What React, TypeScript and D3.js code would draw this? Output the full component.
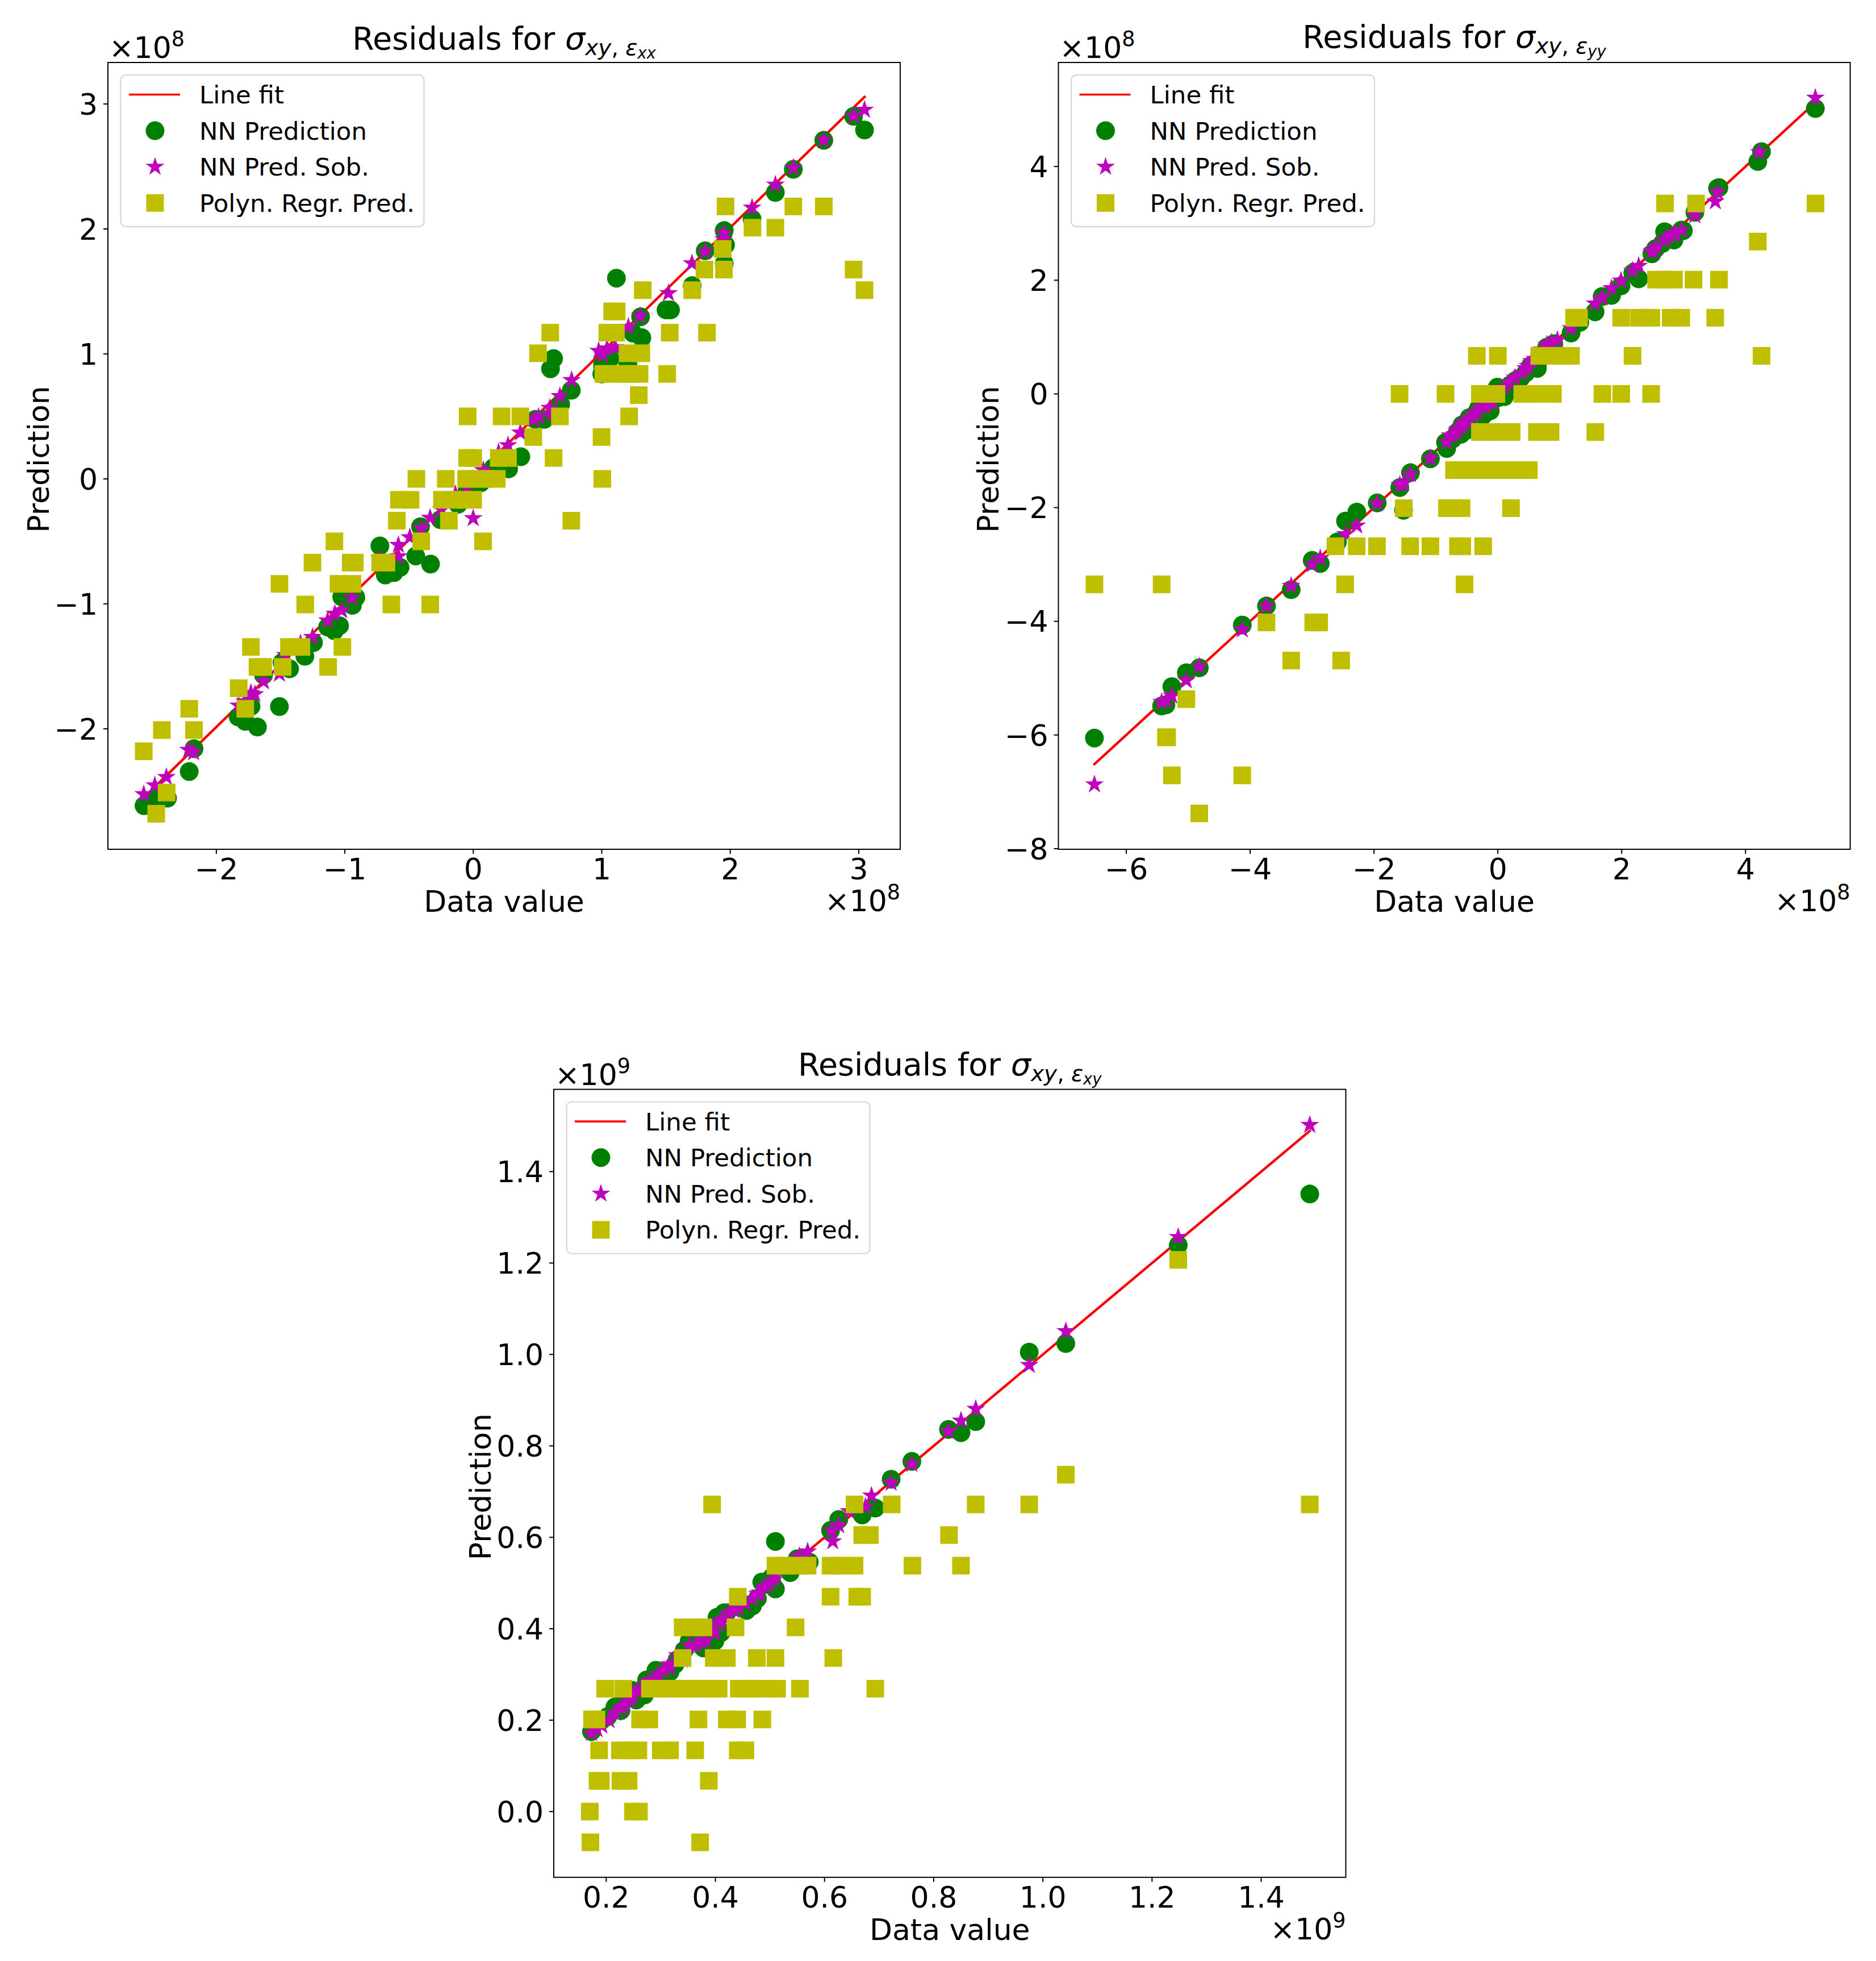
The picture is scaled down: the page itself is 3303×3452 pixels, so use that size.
import { useRef, useEffect } from "react";
import * as d3 from "d3";

type Pair = [number, number];

// Values are in axis units, i.e. before the x10^8 / x10^9 offset

// sigma_xy, eps_xx
const xxFit: Pair[] = [[-2.565, -2.55], [3.045, 3.056]];
const xxCircles: Pair[] = [
  [-2.563, -2.615], [-2.47, -2.56], [-2.428, -2.525], [-2.38, -2.555], [-2.174, -2.159], [-2.211, -2.342],
  [-1.83, -1.905], [-1.775, -1.94], [-1.68, -1.986], [-1.73, -1.82], [-1.509, -1.822], [-1.633, -1.57],
  [-1.489, -1.47], [-1.43, -1.52], [-1.311, -1.42], [-1.244, -1.31], [-1.134, -1.185], [-1.081, -1.215],
  [-1.041, -1.175], [-1.024, -0.945], [-0.941, -1.012], [-0.914, -0.948], [-0.685, -0.769], [-0.618, -0.75],
  [-0.57, -0.708], [-0.727, -0.536], [-0.448, -0.617], [-0.333, -0.682], [-0.411, -0.383], [-0.257, -0.326],
  [-0.119, -0.204], [-0.1, -0.17], [-0.05, -0.1], [0.02, -0.03], [0.058, -0.032], [0.1, 0.03], [0.157, 0.09],
  [0.275, 0.08], [0.37, 0.177], [0.483, 0.476], [0.552, 0.476], [0.68, 0.597], [0.763, 0.709], [0.601, 0.881],
  [0.625, 0.963], [1.114, 1.606], [1.006, 0.912], [1.0, 0.84], [1.065, 0.963], [1.203, 0.922], [1.312, 1.129],
  [1.243, 1.166], [1.302, 1.297], [1.5, 1.352], [1.535, 1.352], [1.704, 1.547], [1.805, 1.825], [1.953, 1.724],
  [1.963, 1.872], [1.953, 1.987], [2.17, 2.079], [2.351, 2.292], [2.491, 2.477], [2.728, 2.709], [2.96, 2.901],
  [3.045, 2.792],
];
const xxStars: Pair[] = [
  [-2.565, -2.524], [-2.479, -2.453], [-2.389, -2.386], [-2.216, -2.169], [-2.177, -2.189], [-1.827, -1.814],
  [-1.78, -1.78], [-1.731, -1.713], [-1.7, -1.723], [-1.633, -1.621], [-1.509, -1.56], [-1.463, -1.41],
  [-1.345, -1.317], [-1.252, -1.266], [-1.134, -1.134], [-1.078, -1.079], [-1.024, -1.053], [-0.944, -0.951],
  [-0.728, -0.64], [-0.583, -0.529], [-0.583, -0.62], [-0.494, -0.468], [-0.405, -0.397], [-0.336, -0.312],
  [-0.001, -0.316], [-0.248, -0.245], [-0.139, -0.123], [-0.05, -0.062], [0.078, 0.07], [0.197, 0.212],
  [0.27, 0.269], [0.366, 0.37], [0.473, 0.476], [0.508, 0.496], [0.595, 0.567], [0.607, 0.516], [0.674, 0.662],
  [0.765, 0.79], [1.006, 0.993], [0.976, 1.023], [1.041, 1.044], [1.104, 1.054], [1.207, 1.216], [1.298, 1.304],
  [1.519, 1.486], [1.702, 1.724], [1.805, 1.819], [1.949, 1.967], [1.949, 1.916], [2.17, 2.17], [2.351, 2.354],
  [2.491, 2.489], [2.728, 2.711], [2.96, 2.906], [3.045, 2.953],
];
const xxSquares: Pair[] = [
  [-2.468, -2.68], [-2.387, -2.51], [-2.565, -2.18], [-2.424, -2.01], [-2.174, -2.01], [-2.211, -1.84],
  [-1.775, -1.84], [-1.826, -1.675], [-1.68, -1.505], [-1.636, -1.505], [-1.484, -1.505], [-1.13, -1.505],
  [-1.731, -1.345], [-1.435, -1.345], [-1.338, -1.345], [-1.019, -1.345], [-1.308, -1.005], [-0.638, -1.005],
  [-0.335, -1.005], [-1.509, -0.84], [-1.049, -0.84], [-0.941, -0.84], [-1.252, -0.67], [-0.954, -0.67],
  [-0.922, -0.67], [-0.725, -0.67], [-0.676, -0.67], [-1.081, -0.5], [-0.405, -0.5], [0.076, -0.5], [-0.595, -0.335],
  [-0.19, -0.335], [0.763, -0.335], [-0.579, -0.1675], [-0.488, -0.1675], [-0.244, -0.1675], [-0.159, -0.1675],
  [-0.08, -0.1675], [-0.001, -0.1675], [-0.443, 0], [-0.214, 0], [-0.056, 0], [0.019, 0], [0.098, 0], [0.183, 0],
  [1.004, 0], [-0.048, 0.1675], [-0.001, 0.1675], [0.198, 0.1675], [0.27, 0.1675], [0.625, 0.1675], [0.467, 0.335],
  [0.998, 0.335], [-0.044, 0.5], [0.22, 0.5], [0.366, 0.5], [0.674, 0.5], [1.213, 0.5], [1.288, 0.67], [1.012, 0.84],
  [1.085, 0.84], [1.164, 0.84], [1.233, 0.84], [1.294, 0.84], [1.509, 0.84], [0.504, 1.005], [1.201, 1.005],
  [1.308, 1.005], [0.599, 1.17], [1.043, 1.17], [1.11, 1.17], [1.529, 1.17], [1.819, 1.17], [1.081, 1.34],
  [1.116, 1.34], [1.319, 1.51], [1.704, 1.51], [3.045, 1.51], [1.799, 1.675], [1.951, 1.675], [2.96, 1.675],
  [1.941, 1.84], [2.173, 2.01], [2.351, 2.01], [1.963, 2.18], [2.491, 2.18], [2.728, 2.18],
];

// sigma_xy, eps_yy
const yyFit: Pair[] = [[-6.514, -6.513], [5.127, 5.127]];
const yyCircles: Pair[] = [
  [-6.514, -6.053], [-5.429, -5.49], [-5.36, -5.47], [-5.264, -5.149], [-5.03, -4.905], [-4.821, -4.818],
  [-4.127, -4.066], [-3.736, -3.73], [-3.337, -3.443], [-2.998, -2.929], [-2.868, -2.983], [-2.59, -2.604],
  [-2.46, -2.236], [-2.278, -2.079], [-1.948, -1.917], [-1.583, -1.646], [-1.41, -1.386], [-1.523, -2.046],
  [-1.089, -1.142], [-0.826, -0.959], [-0.845, -0.855], [-0.598, -0.71], [-0.579, -0.545], [-0.465, -0.42],
  [-0.313, -0.255], [-0.161, -0.255], [0, -0.068], [-0.009, 0.118], [0.201, 0.16], [0.372, 0.284], [0.524, 0.491],
  [0.638, 0.532], [0.904, 0.884], [1.182, 1.071], [1.323, 1.257], [1.57, 1.444], [1.684, 1.713], [1.836, 1.734],
  [1.989, 1.9], [2.274, 2.024], [2.179, 2.127], [2.487, 2.464], [2.548, 2.556], [2.705, 2.843], [2.835, 2.762],
  [2.965, 2.881], [3.182, 3.195], [3.547, 3.617], [3.57, 3.63], [4.198, 4.088], [4.258, 4.262], [5.127, 5.02],
  [-0.731, -0.793], [-0.655, -0.669], [-0.522, -0.648], [-0.351, -0.338], [-0.237, -0.379], [-0.122, -0.296],
  [0.105, -0.048], [0.296, 0.242], [0.448, 0.367], [0.638, 0.45], [0.79, 0.822], [2.654, 2.645], [2.844, 2.707],
  [2.692, 2.852], [2.996, 2.873],
];
const yyStars: Pair[] = [
  [-6.514, -6.87], [-5.429, -5.42], [-5.351, -5.392], [-5.264, -5.311], [-5.03, -5.04], [-4.821, -4.797],
  [-4.127, -4.147], [-3.736, -3.73], [-3.337, -3.378], [-2.998, -3.0], [-2.868, -2.891], [-2.46, -2.469],
  [-2.278, -2.317], [-1.948, -1.927], [-1.583, -1.602], [-1.523, -1.575], [-1.41, -1.413], [-1.089, -1.131],
  [-0.826, -0.843], [-0.693, -0.71], [-0.598, -0.586], [-0.522, -0.483], [-0.389, -0.358], [-0.256, -0.234],
  [-0.161, -0.151], [0.182, 0.201], [0.391, 0.367], [0.486, 0.491], [0.6, 0.615], [0.866, 0.905], [1.182, 1.154],
  [1.57, 1.589], [1.684, 1.692], [1.836, 1.858], [1.989, 1.991], [2.179, 2.169], [2.274, 2.252], [2.483, 2.5],
  [2.559, 2.583], [2.768, 2.769], [2.844, 2.811], [2.965, 2.881], [3.182, 3.141], [3.512, 3.385], [3.547, 3.547],
  [4.224, 4.251], [5.127, 5.209], [-0.769, -0.731], [-0.655, -0.628], [-0.56, -0.524], [-0.446, -0.441],
  [-0.332, -0.317], [-0.199, -0.213], [-0.085, -0.151], [0.105, 0.118], [0.277, 0.284], [0.448, 0.45], [0.543, 0.574],
  [0.714, 0.781], [0.79, 0.864], [0.961, 0.947], [2.502, 2.521], [2.692, 2.707], [2.863, 2.831],
];
const yySquares: Pair[] = [
  [2.7, 3.35], [3.2, 3.35], [5.13, 3.35], [4.198, 2.68], [2.555, 2.01], [2.7, 2.01], [2.844, 2.01], [3.16, 2.01],
  [3.57, 2.01], [1.231, 1.34], [1.311, 1.34], [1.992, 1.34], [2.281, 1.34], [2.479, 1.34], [2.791, 1.34], [2.962, 1.34],
  [3.51, 1.34], [-0.339, 0.67], [0, 0.67], [0.669, 0.67], [0.829, 0.67], [1.019, 0.67], [1.182, 0.67], [2.175, 0.67],
  [4.258, 0.67], [-1.587, 0], [-0.845, 0], [-0.29, 0], [-0.161, 0], [-0.024, 0], [0.395, 0], [0.608, 0], [0.889, 0],
  [1.688, 0], [1.992, 0], [2.475, 0], [-0.29, -0.67], [-0.142, -0.67], [0.03, -0.67], [0.224, -0.67], [0.631, -0.67],
  [0.851, -0.67], [1.574, -0.67], [-0.708, -1.34], [-0.541, -1.34], [-0.37, -1.34], [-0.199, -1.34], [-0.047, -1.34],
  [0.144, -1.34], [0.334, -1.34], [0.501, -1.34], [-1.519, -2.01], [-0.822, -2.01], [-0.587, -2.01], [0.212, -2.01],
  [-2.622, -2.68], [-2.279, -2.68], [-1.952, -2.68], [-1.416, -2.68], [-1.089, -2.68], [-0.644, -2.68], [-0.575, -2.68],
  [-0.237, -2.68], [-2.466, -3.35], [-0.537, -3.35], [-6.514, -3.35], [-5.429, -3.35], [-3.736, -4.02], [-2.981, -4.02],
  [-2.886, -4.02], [-3.337, -4.69], [-2.53, -4.69], [-5.03, -5.37], [-5.36, -6.04], [-5.34, -6.04], [-5.264, -6.71],
  [-4.127, -6.71], [-4.821, -7.38],
];

// sigma_xy, eps_xy
const xyFit: Pair[] = [[0.173, 0.173], [1.489, 1.489]];
const xyCircles: Pair[] = [
  [0.173, 0.175], [0.203, 0.208], [0.227, 0.221], [0.233, 0.244], [0.248, 0.265], [0.274, 0.288], [0.306, 0.306],
  [0.317, 0.306], [0.33, 0.332], [0.343, 0.353], [0.378, 0.358], [0.365, 0.378], [0.403, 0.414], [0.421, 0.435],
  [0.457, 0.44], [0.477, 0.466], [0.494, 0.497], [0.51, 0.487], [0.51, 0.591], [0.55, 0.553], [0.572, 0.546],
  [0.611, 0.615], [0.626, 0.639], [0.669, 0.649], [0.693, 0.664], [0.722, 0.727], [0.76, 0.766], [0.827, 0.836],
  [0.85, 0.829], [0.877, 0.853], [0.975, 1.005], [1.042, 1.024], [1.248, 1.239], [1.489, 1.351], [0.192, 0.2],
  [0.216, 0.229], [0.255, 0.244], [0.27, 0.255], [0.291, 0.309], [0.326, 0.322], [0.352, 0.373], [0.399, 0.373],
  [0.41, 0.391], [0.403, 0.425], [0.416, 0.435], [0.468, 0.45], [0.485, 0.502], [0.503, 0.512], [0.537, 0.523],
];
const xyStars: Pair[] = [
  [0.173, 0.172], [0.183, 0.18], [0.205, 0.2], [0.227, 0.226], [0.242, 0.242], [0.257, 0.265], [0.287, 0.286],
  [0.306, 0.309], [0.317, 0.315], [0.339, 0.332], [0.365, 0.363], [0.382, 0.373], [0.399, 0.391], [0.408, 0.414],
  [0.425, 0.435], [0.442, 0.445], [0.468, 0.466], [0.481, 0.479], [0.498, 0.497], [0.511, 0.517], [0.541, 0.543],
  [0.554, 0.559], [0.569, 0.569], [0.613, 0.615], [0.615, 0.591], [0.626, 0.626], [0.645, 0.657], [0.675, 0.667],
  [0.686, 0.691], [0.722, 0.719], [0.76, 0.76], [0.827, 0.832], [0.85, 0.855], [0.877, 0.881], [0.975, 0.977],
  [1.042, 1.051], [1.248, 1.257], [1.489, 1.502], [0.192, 0.188], [0.216, 0.216], [0.233, 0.232], [0.248, 0.25],
  [0.265, 0.27], [0.278, 0.286], [0.296, 0.301], [0.315, 0.322], [0.33, 0.342], [0.352, 0.363], [0.373, 0.373],
  [0.395, 0.402], [0.412, 0.42], [0.434, 0.44], [0.455, 0.455], [0.477, 0.476], [0.49, 0.492], [0.507, 0.507],
  [0.529, 0.533],
];
const xySquares: Pair[] = [
  [0.171, -0.0672], [0.372, -0.0672], [0.17, 0], [0.249, 0], [0.26, 0], [0.184, 0.0672], [0.19, 0.0672], [0.226, 0.0672],
  [0.241, 0.0672], [0.388, 0.0672], [0.187, 0.134], [0.225, 0.134], [0.242, 0.134], [0.259, 0.134], [0.3, 0.134],
  [0.317, 0.134], [0.363, 0.134], [0.441, 0.134], [0.455, 0.134], [0.174, 0.2016], [0.182, 0.2016], [0.262, 0.2016],
  [0.279, 0.2016], [0.369, 0.2016], [0.421, 0.2016], [0.44, 0.2016], [0.486, 0.2016], [0.198, 0.2688], [0.231, 0.2688],
  [0.28, 0.2688], [0.3, 0.2688], [0.322, 0.2688], [0.343, 0.2688], [0.365, 0.2688], [0.386, 0.2688], [0.406, 0.2688],
  [0.443, 0.2688], [0.464, 0.2688], [0.485, 0.2688], [0.513, 0.2688], [0.555, 0.2688], [0.693, 0.2688], [0.34, 0.336],
  [0.397, 0.336], [0.421, 0.336], [0.476, 0.336], [0.51, 0.336], [0.616, 0.336], [0.34, 0.403], [0.36, 0.403],
  [0.378, 0.403], [0.437, 0.403], [0.547, 0.403], [0.441, 0.47], [0.611, 0.47], [0.66, 0.47], [0.669, 0.47], [0.51, 0.538],
  [0.529, 0.538], [0.55, 0.538], [0.569, 0.538], [0.611, 0.538], [0.632, 0.538], [0.655, 0.538], [0.761, 0.538],
  [0.85, 0.538], [0.669, 0.605], [0.683, 0.605], [0.828, 0.605], [0.394, 0.672], [0.655, 0.672], [0.723, 0.672],
  [0.877, 0.672], [0.975, 0.672], [1.489, 0.672], [1.042, 0.737], [1.248, 1.207],
];

const xxXTicks = [-2, -1, 0, 1, 2, 3];
const xxYTicks = [-2, -1, 0, 1, 2, 3];
const yyXTicks = [-6, -4, -2, 0, 2, 4];
const yyYTicks = [-8, -6, -4, -2, 0, 2, 4];
const xyXTicks = [0.2, 0.4, 0.6, 0.8, 1.0, 1.2, 1.4];
const xyYTicks = [0.0, 0.2, 0.4, 0.6, 0.8, 1.0, 1.2, 1.4];

const legendLabels = ["Line fit", "NN Prediction", "NN Pred. Sob.", "Polyn. Regr. Pred."];

const FONT = "'DejaVu Sans', sans-serif";
const RED = "#ff0000";
const GREEN = "#008000";
const MAGENTA = "#bf00bf";
const OLIVE = "#bfbf00";

const circleSym = d3.symbol(d3.symbolCircle, Math.PI * 16.5 * 16.5)();
const starSym = d3.symbol(d3.symbolStar, 205)();
const squareSym = d3.symbol(d3.symbolSquare, 31 * 31)();

interface PanelProps {
  left: number;
  right: number;
  top: number;
  bottom: number;
  xDomain: [number, number];
  yDomain: [number, number];
  xTicks: number[];
  yTicks: number[];
  digits: number;
  exponent: string;
  sub: string;
  titleY: number;
  yLabelX: number;
  fit: Pair[];
  circles: Pair[];
  stars: Pair[];
  squares: Pair[];
}

const Panel: React.FC<PanelProps> = (p) => {
  const ref = useRef<SVGGElement | null>(null);

  useEffect(() => {
    if (!ref.current) return;
    const g = d3.select(ref.current);
    g.selectAll("*").remove();

    const x = d3.scaleLinear().domain(p.xDomain).range([p.left, p.right]);
    const y = d3.scaleLinear().domain(p.yDomain).range([p.bottom, p.top]);
    const fmt = (d: d3.NumberValue) => d3.format(`.${p.digits}f`)(+d).replace("-", "\u2212");

    // fit line
    const line = d3
      .line<Pair>()
      .x((d) => x(d[0]))
      .y((d) => y(d[1]));
    g.append("path")
      .attr("d", line(p.fit))
      .attr("fill", "none")
      .attr("stroke", RED)
      .attr("stroke-width", 4.4)
      .attr("stroke-linecap", "square");

    const marks = (data: Pair[], sym: string | null, color: string) =>
      g
        .append("g")
        .selectAll("path")
        .data(data)
        .join("path")
        .attr("d", sym)
        .attr("fill", color)
        .attr("transform", (d) => `translate(${x(d[0])},${y(d[1])})`);

    marks(p.circles, circleSym, GREEN);
    // the star carries an edge of its own colour, that is what makes it look fat
    marks(p.stars, starSym, MAGENTA).attr("stroke", MAGENTA).attr("stroke-width", 2.4);
    marks(p.squares, squareSym, OLIVE);

    // frame
    g.append("rect")
      .attr("x", p.left)
      .attr("y", p.top)
      .attr("width", p.right - p.left)
      .attr("height", p.bottom - p.top)
      .attr("fill", "none")
      .attr("stroke", "#000")
      .attr("stroke-width", 2);

    // axes
    const xAxis = g
      .append("g")
      .attr("transform", `translate(0,${p.bottom})`)
      .call(
        d3.axisBottom(x).tickValues(p.xTicks).tickFormat(fmt).tickSize(8).tickPadding(8).offset(0)
      );
    const yAxis = g
      .append("g")
      .attr("transform", `translate(${p.left},0)`)
      .call(
        d3.axisLeft(y).tickValues(p.yTicks).tickFormat(fmt).tickSize(8).tickPadding(10).offset(0)
      );
    yAxis.selectAll("text").attr("dy", "0.36em");
    [xAxis, yAxis].forEach((a) => {
      a.select(".domain").remove();
      a.attr("font-family", FONT).attr("font-size", 52);
      a.selectAll("line").attr("stroke-width", 2);
    });

    const label = (tx: number, ty: number, txt: string) =>
      g
        .append("text")
        .attr("x", tx)
        .attr("y", ty)
        .attr("font-family", FONT)
        .attr("font-size", 52)
        .attr("text-anchor", "middle")
        .text(txt);

    label((p.left + p.right) / 2, p.bottom + 110, "Data value");
    label(0, 0, "Prediction").attr(
      "transform",
      `translate(${p.yLabelX},${(p.top + p.bottom) / 2 + 6}) rotate(-90)`
    );

    // offset text, top left and bottom right
    const offset = (tx: number, ty: number, anchor: string) => {
      const t = g
        .append("text")
        .attr("x", tx)
        .attr("y", ty)
        .attr("font-family", FONT)
        .attr("font-size", 52)
        .attr("text-anchor", anchor);
      t.append("tspan").text("\u00d710");
      t.append("tspan").attr("font-size", 36.5).attr("dy", -21).text(p.exponent);
    };
    offset(p.left + 2, p.top - 8, "start");
    offset(p.right, p.bottom + 109, "end");

    // title
    const title = g
      .append("text")
      .attr("x", (p.left + p.right) / 2)
      .attr("y", p.titleY)
      .attr("font-family", FONT)
      .attr("font-size", 55.5)
      .attr("text-anchor", "middle");
    title.append("tspan").text("Residuals for ");
    title.append("tspan").attr("font-style", "italic").text("\u03c3");
    title.append("tspan").attr("font-style", "italic").attr("font-size", 39).attr("dy", 10).text("xy");
    title.append("tspan").attr("font-size", 39).text(", ");
    title.append("tspan").attr("font-style", "italic").attr("font-size", 39).text("\u03b5");
    title.append("tspan").attr("font-style", "italic").attr("font-size", 27.5).attr("dy", 6).text(p.sub);

    // legend
    const legX = p.left + 22.5;
    const legY = p.top + 22;
    g.append("rect")
      .attr("x", legX)
      .attr("y", legY)
      .attr("width", 534)
      .attr("height", 267)
      .attr("rx", 9)
      .attr("fill", "#fff")
      .attr("fill-opacity", 0.8)
      .attr("stroke", "#d9d9d9")
      .attr("stroke-width", 2.4);

    const rowY = legendLabels.map((_, i) => legY + 34.5 + i * 63.6);
    g.append("line")
      .attr("x1", p.left + 37)
      .attr("x2", p.left + 127)
      .attr("y1", rowY[0])
      .attr("y2", rowY[0])
      .attr("stroke", RED)
      .attr("stroke-width", 3.6);
    [
      [circleSym, GREEN, 0],
      [starSym, MAGENTA, 2.4],
      [squareSym, OLIVE, 0],
    ].forEach(([sym, color, edge], i) => {
      g.append("path")
        .attr("d", sym as string)
        .attr("fill", color as string)
        .attr("stroke", edge ? (color as string) : "none")
        .attr("stroke-width", edge as number)
        .attr("transform", `translate(${p.left + 83},${rowY[i + 1]})`);
    });
    legendLabels.forEach((txt, i) => {
      g.append("text")
        .attr("x", p.left + 161)
        .attr("y", rowY[i] + 15.5)
        .attr("font-family", FONT)
        .attr("font-size", 43.5)
        .text(txt);
    });
  }, [p]);

  return <g ref={ref}></g>;
};

const App: React.FC = () => {
  return (
    <svg
      width={3303}
      height={3452}
      style={{ position: "absolute", left: 0, top: 0, background: "#fff" }}
    >
      <Panel
        left={190}
        right={1585}
        top={110}
        bottom={1495}
        xDomain={[-2.844, 3.323]}
        yDomain={[-2.964, 3.332]}
        xTicks={xxXTicks}
        yTicks={xxYTicks}
        digits={0}
        exponent="8"
        sub="xx"
        titleY={87}
        yLabelX={86}
        fit={xxFit}
        circles={xxCircles}
        stars={xxStars}
        squares={xxSquares}
      />
      <Panel
        left={1863.5}
        right={3257.6}
        top={110}
        bottom={1495}
        xDomain={[-7.096, 5.69]}
        yDomain={[-8.01, 5.83]}
        xTicks={yyXTicks}
        yTicks={yyYTicks}
        digits={0}
        exponent="8"
        sub="yy"
        titleY={84}
        yLabelX={1758}
        fit={yyFit}
        circles={yyCircles}
        stars={yyStars}
        squares={yySquares}
      />
      <Panel
        left={975}
        right={2369.5}
        top={1917.6}
        bottom={3304.7}
        xDomain={[0.1039, 1.555]}
        yDomain={[-0.1438, 1.58]}
        xTicks={xyXTicks}
        yTicks={xyYTicks}
        digits={1}
        exponent="9"
        sub="xy"
        titleY={1893}
        yLabelX={864}
        fit={xyFit}
        circles={xyCircles}
        stars={xyStars}
        squares={xySquares}
      />
    </svg>
  );
};

export default App;
